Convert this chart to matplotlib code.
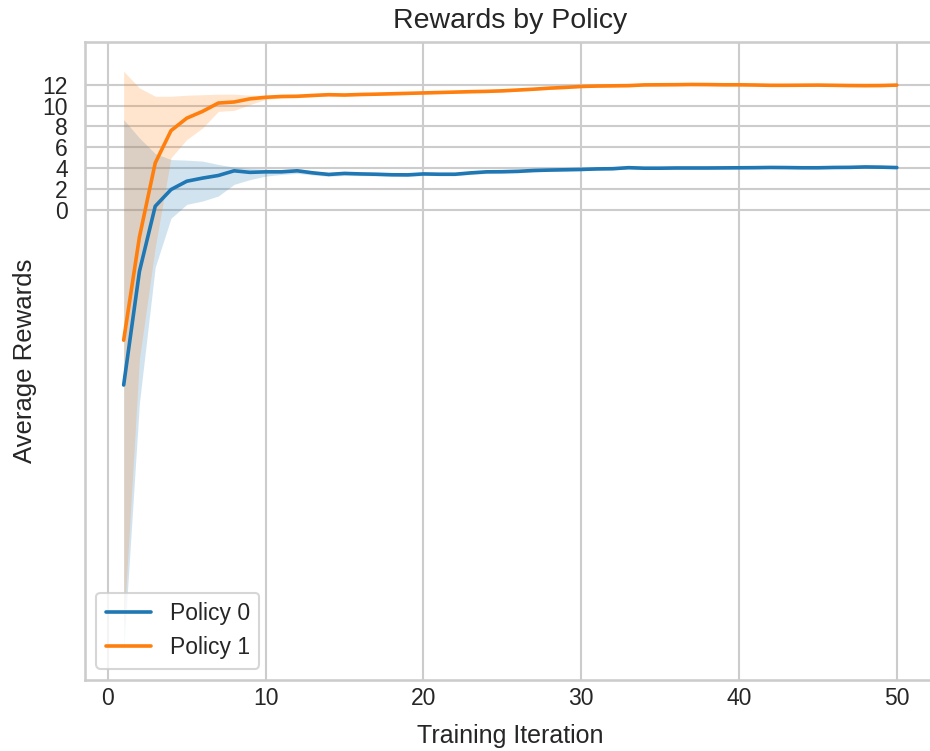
import matplotlib
matplotlib.use("Agg")
import matplotlib.pyplot as plt
import seaborn as sns
import numpy as np

# training iterations 1..50
iterations = list(range(1, 51))

# Policy 0 mean reward and band
policy0_mean = [-16.8, -5.9, 0.35, 1.95, 2.75, 3.05, 3.3, 3.75, 3.6, 3.65,
                3.65, 3.75, 3.55, 3.4, 3.5, 3.45, 3.42, 3.37, 3.36, 3.45,
                3.42, 3.42, 3.55, 3.65, 3.66, 3.7, 3.78, 3.82, 3.85, 3.88,
                3.93, 3.95, 4.05, 4.0, 4.0, 4.02, 4.02, 4.02, 4.03, 4.04,
                4.05, 4.07, 4.06, 4.04, 4.04, 4.07, 4.08, 4.12, 4.1, 4.06]
policy0_low = [-42.3, -18.5, -5.5, -0.8, 0.53, 0.85, 1.33, 2.45, 2.9, 3.24,
               3.4, 3.5, 3.35, 3.22, 3.3, 3.28, 3.26, 3.22, 3.2, 3.3,
               3.28, 3.28, 3.4, 3.5, 3.52, 3.56, 3.65, 3.7, 3.73, 3.76,
               3.81, 3.84, 3.93, 3.89, 3.9, 3.92, 3.92, 3.92, 3.93, 3.94,
               3.95, 3.97, 3.96, 3.94, 3.94, 3.97, 3.98, 4.02, 4.0, 3.96]
policy0_high = [8.66, 6.9, 5.4, 4.83, 4.77, 4.68, 4.36, 4.1, 3.97, 3.9,
                3.88, 3.95, 3.75, 3.58, 3.68, 3.62, 3.58, 3.52, 3.52, 3.6,
                3.56, 3.56, 3.7, 3.8, 3.8, 3.84, 3.91, 3.94, 3.97, 4.0,
                4.05, 4.06, 4.17, 4.11, 4.1, 4.12, 4.12, 4.12, 4.13, 4.14,
                4.15, 4.17, 4.16, 4.14, 4.14, 4.17, 4.18, 4.22, 4.2, 4.16]

# Policy 1 mean reward and band
policy1_mean = [-12.5, -2.6, 4.5, 7.6, 8.8, 9.45, 10.25, 10.35, 10.65, 10.8,
                10.88, 10.9, 10.98, 11.05, 11.02, 11.07, 11.1, 11.14, 11.18, 11.22,
                11.26, 11.3, 11.34, 11.37, 11.42, 11.5, 11.58, 11.68, 11.75, 11.84,
                11.88, 11.9, 11.92, 11.99, 12.0, 12.01, 12.03, 12.02, 12.0, 12.0,
                11.98, 11.95, 11.95, 11.96, 11.97, 11.95, 11.93, 11.92, 11.93, 11.97]
policy1_low = [-40.0, -14.3, -3.6, 5.0, 6.75, 7.86, 9.45, 9.55, 10.1, 10.6,
               10.72, 10.76, 10.85, 10.93, 10.9, 10.96, 10.99, 11.03, 11.07, 11.11,
               11.15, 11.19, 11.23, 11.26, 11.31, 11.39, 11.47, 11.57, 11.64, 11.73,
               11.77, 11.79, 11.81, 11.88, 11.89, 11.9, 11.92, 11.91, 11.89, 11.89,
               11.87, 11.84, 11.84, 11.85, 11.86, 11.84, 11.82, 11.81, 11.82, 11.86]
policy1_high = [13.3, 11.7, 10.9, 10.9, 11.0, 11.05, 11.1, 11.1, 11.0, 11.0,
                11.04, 11.04, 11.11, 11.17, 11.14, 11.18, 11.21, 11.25, 11.29, 11.33,
                11.37, 11.41, 11.45, 11.48, 11.53, 11.61, 11.69, 11.79, 11.86, 11.95,
                11.99, 12.01, 12.03, 12.1, 12.11, 12.12, 12.14, 12.13, 12.11, 12.11,
                12.09, 12.06, 12.06, 12.07, 12.08, 12.06, 12.04, 12.03, 12.04, 12.08]

y_ticks = [0, 2, 4, 6, 8, 10, 12]

sns.set_theme(style="whitegrid", context="talk")
plt.rcParams['font.family'] = ['Liberation Sans', 'DejaVu Sans']

fig = plt.figure(figsize=(9.3, 7.51), dpi=100)
ax = fig.add_axes([0.0914, 0.0945, 0.9145, 0.8495])

colors = ["#1f77b4", "#ff7f0e"]
series = [
    ("Policy 0", policy0_mean, policy0_low, policy0_high, colors[0]),
    ("Policy 1", policy1_mean, policy1_low, policy1_high, colors[1]),
]
for name, mean, low, high, c in series:
    ax.plot(iterations, mean, color=c, label=name, linewidth=2.6)
    ax.fill_between(iterations, low, high, color=c, alpha=0.2, linewidth=0)

ax.set_xlim(-1.45, 52.45)
ax.set_ylim(-45.1, 16.1)
ax.set_yticks(y_ticks)
ax.set_xticks([0, 10, 20, 30, 40, 50])
ax.tick_params(axis='x', length=0, pad=5)
ax.set_xlabel("Training Iteration", labelpad=10)
ax.set_ylabel("Average Rewards", fontsize=18.5)
ax.set_title("Rewards by Policy", fontsize=20.5, pad=10)
ax.legend(loc="lower left")

fig.savefig("out.png", dpi=100)
